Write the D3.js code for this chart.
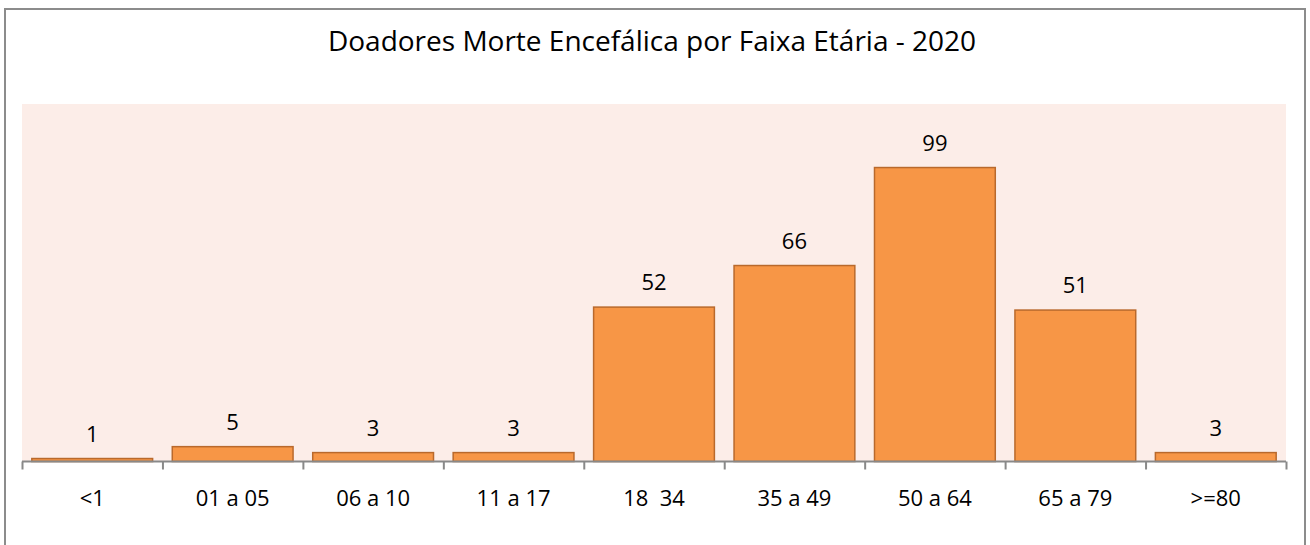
<!DOCTYPE html>
<html>
<head>
<meta charset="utf-8">
<script src="https://cdn.jsdelivr.net/npm/d3@7/dist/d3.min.js"></script>
<style>
  html, body { margin: 0; padding: 0; background: #ffffff; }
  svg { display: block; }
  text { font-family: "Open Sans", "Noto Sans", sans-serif; fill: #000; white-space: pre; }
</style>
</head>
<body>
<svg id="chart" width="1310" height="545"></svg>
<script>
const title = "Doadores Morte Encefálica por Faixa Etária - 2020";
const categories = ["<1", "01 a 05", "06 a 10", "11 a 17", "18  34", "35 a 49", "50 a 64", "65 a 79", ">=80"];
const values = [1, 5, 3, 3, 52, 66, 99, 51, 3];
const yDomain = [0, 120];

const svg = d3.select("#chart");
const plot = { left: 22, right: 1286, top: 104, bottom: 461.5 };

// outer chart border
svg.append("rect")
  .attr("x", 5).attr("y", 9)
  .attr("width", 1300).attr("height", 560)
  .attr("fill", "#ffffff")
  .attr("stroke", "#8c8c8c").attr("stroke-width", 2);

// plot background
svg.append("rect")
  .attr("x", plot.left).attr("y", plot.top)
  .attr("width", plot.right - plot.left).attr("height", plot.bottom - plot.top)
  .attr("fill", "#fcede8");

// title
svg.append("text")
  .attr("x", 652).attr("y", 51)
  .attr("text-anchor", "middle")
  .style("font-size", "28px")
  .text(title);

const x = d3.scaleBand()
  .domain(categories)
  .range([plot.left, plot.right])
  .paddingInner(0.14)
  .paddingOuter(0.07);

const y = d3.scaleLinear()
  .domain(yDomain)
  .range([plot.bottom, plot.bottom - (plot.bottom - plot.top) * 120 / 120.4]);

// bars
svg.append("g").selectAll("rect")
  .data(values)
  .join("rect")
  .attr("x", (d, i) => x(categories[i]))
  .attr("y", d => y(d))
  .attr("width", x.bandwidth())
  .attr("height", d => y(0) - y(d))
  .attr("fill", "#f79646")
  .attr("stroke", "#b9692c")
  .attr("stroke-width", 1.5);

// data labels
svg.append("g").selectAll("text")
  .data(values)
  .join("text")
  .attr("x", (d, i) => x(categories[i]) + x.bandwidth() / 2)
  .attr("y", d => y(d) - 17)
  .attr("text-anchor", "middle")
  .style("font-size", "22px")
  .text(d => d);

// tick marks at category boundaries
const boundary = d3.scaleLinear().domain([0, categories.length]).range([plot.left, plot.right]);
const tickAxis = d3.axisBottom(boundary)
  .tickValues(d3.range(0, categories.length + 1))
  .tickSize(8)
  .tickFormat("");
const gt = svg.append("g").attr("transform", `translate(0,${plot.bottom})`).call(tickAxis);
gt.selectAll("path, line").attr("stroke", "#898989").attr("stroke-width", 2);
gt.select(".domain").attr("d", `M${plot.left},0H${plot.right}`);

// category labels
const labelAxis = d3.axisBottom(x).tickSize(0).tickPadding(29);
const gl = svg.append("g").attr("transform", `translate(0,${plot.bottom})`).call(labelAxis);
gl.select(".domain").remove();
gl.selectAll("text")
  .style("font-size", "22px")
  .style("font-family", "'Open Sans', 'Noto Sans', sans-serif")
  .style("white-space", "pre")
  .attr("fill", "#000");
</script>
</body>
</html>
